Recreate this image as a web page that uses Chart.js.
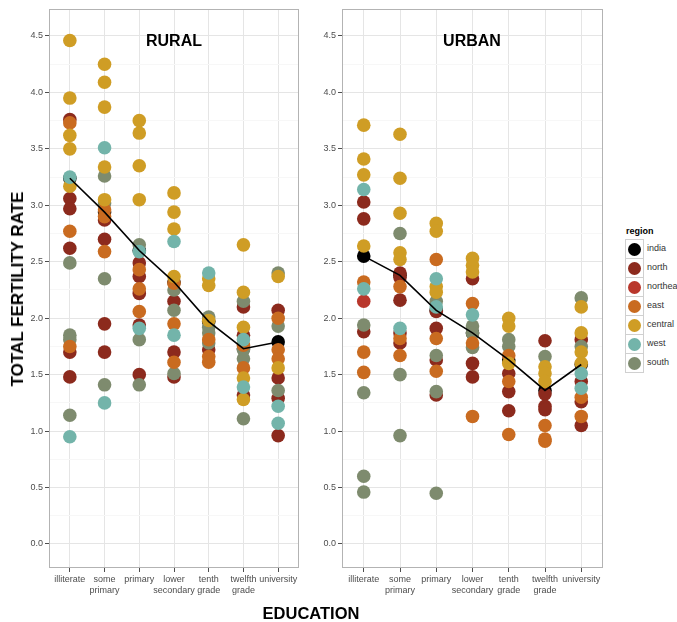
<!DOCTYPE html>
<html>
<head>
<meta charset="utf-8">
<script src="https://cdn.jsdelivr.net/npm/chart.js@4"></script>
<style>
  html, body { margin:0; padding:0; background:#fff; }
  body { width:677px; height:622px; overflow:hidden; position:relative; font-family:"Liberation Sans", Arial, sans-serif; }
  canvas { position:absolute; top:0; }
  .facet { position:absolute; font-weight:bold; font-size:16px; color:#000; transform:translate(-50%,-50%); white-space:nowrap; }
  #ytitle { position:absolute; left:18px; top:289px; font-weight:bold; font-size:17px; transform:translate(-50%,-50%) rotate(-90deg); white-space:nowrap; }
  #xtitle { position:absolute; left:311px; top:613px; font-weight:bold; font-size:16.5px; transform:translate(-50%,-50%); white-space:nowrap; }
  #legend { position:absolute; left:625px; top:224px; }
  #legend .ttl { font-weight:bold; font-size:9px; color:#000; height:15px; line-height:15px; margin-left:1px; }
  #legend .row { position:relative; height:19px; }
  #legend .key { position:absolute; left:0; top:0; width:17px; height:18px; border:1px solid #d0d0d0; background:#fff; }
  #legend .dot { position:absolute; left:2px; top:2.5px; width:13px; height:13px; border-radius:50%; }
  #legend .lab { position:absolute; left:22px; top:0; height:19px; line-height:19px; font-size:9px; color:#333; white-space:nowrap; }
</style>
</head>
<body>
<canvas id="rural" width="320" height="622" style="left:0px"></canvas>
<canvas id="urban" width="320" height="622" style="left:300px"></canvas>
<div class="facet" style="left:174px;top:41px">RURAL</div>
<div class="facet" style="left:472px;top:41px">URBAN</div>
<div id="ytitle">TOTAL FERTILITY RATE</div>
<div id="xtitle">EDUCATION</div>
<div id="legend"></div>
<script>
// ---- data ----
const categories = ['illiterate','some primary','primary','lower secondary','tenth grade','twelfth grade','university'];
const tickLabels = [['illiterate'],['some','primary'],['primary'],['lower','secondary'],['tenth','grade'],['twelfth','grade'],['university']];
const regions = ['india','north','northeast','east','central','west','south'];
const yTickValues = [0,0.25,0.5,0.75,1,1.25,1.5,1.75,2,2.25,2.5,2.75,3,3.25,3.5,3.75,4,4.25,4.5];
const yMajorLabels = ['0.0','0.5','1.0','1.5','2.0','2.5','3.0','3.5','4.0','4.5'];

const ruralIndia = [3.24, 2.94, 2.60, 2.32, 1.97, 1.73, 1.79];
const urbanIndia = [2.55, 2.38, 2.07, 1.87, 1.63, 1.36, 1.59];

// values per category (index = education level)
const ruralNorth     = [[3.76,3.06,2.97,2.62,1.70,1.48],[2.87,2.70,1.95,1.70],[2.49,2.37,2.22,1.94,1.50],[2.15,1.70,1.48],[1.72],[2.10,1.85,1.32],[2.07,1.47,1.29,0.96]];
const ruralNortheast = [[],[],[],[],[],[],[]];
const ruralEast      = [[3.73,2.77,1.75],[2.96,2.90,2.59],[2.43,2.26,2.06],[2.31,1.95,1.61],[1.81,1.66,1.61],[1.76,1.56],[2.00,1.72,1.64]];
const ruralCentral   = [[4.46,3.95,3.62,3.50,3.17],[4.25,4.09,3.87,3.34,3.05],[3.75,3.64,3.35,3.05],[3.11,2.94,2.79,2.37],[2.35,2.29,1.98],[2.65,2.23,1.92,1.47,1.28],[2.37,1.56]];
const ruralWest      = [[3.25,0.95],[3.51,1.25],[2.59,1.91],[2.68,1.85],[2.40],[1.81,1.39],[1.22,1.07]];
const ruralSouth     = [[2.49,1.85,1.81,1.14],[3.26,3.02,2.35,1.41],[2.65,1.81,1.41],[2.25,2.07,1.51],[2.01,1.92,1.87,1.78],[2.15,1.72,1.64,1.11],[2.40,1.93,1.36]];

const urbanNorth     = [[3.03,2.88,1.88],[2.40,2.36,2.16,1.87,1.78],[2.06,1.91,1.63,1.32],[2.35,1.60,1.48],[1.51,1.35,1.18],[1.80,1.33,1.22,1.19],[1.81,1.44,1.26,1.05]];
const urbanNortheast = [[2.15],[],[],[],[],[],[]];
const urbanEast      = [[2.32,1.70,1.52],[2.28,1.82,1.67],[2.52,1.82,1.53],[2.13,1.78,1.13],[1.67,1.44,0.97],[1.05,0.93,0.91],[1.30,1.13]];
const urbanCentral   = [[3.71,3.41,3.27,2.64],[3.63,3.24,2.93,2.58,2.52],[2.84,2.77,2.28,2.23],[2.53,2.47,2.41],[2.00,1.93,1.60],[1.57,1.51,1.44],[2.10,1.87,1.70,1.60]];
const urbanWest      = [[3.14,2.26],[1.91],[2.35,2.10],[2.03],[],[],[1.51,1.38]];
const urbanSouth     = [[1.94,1.34,0.60,0.46],[2.75,1.50,0.96],[2.15,1.67,1.35,0.45],[1.93,1.87,1.74],[1.81,1.75],[1.66],[2.18,1.75]];

// ---- styles ----
const regionColors = {india:'#000000', north:'#8c2a1d', northeast:'#b9372c', east:'#c96b20', central:'#cf9d25', west:'#73b4aa', south:'#7e8b6e'};
const POINT_R = 6.8;

function toPoints(byCat){
  const out = [];
  byCat.forEach((vals, i) => vals.forEach(v => out.push({x:i, y:v})));
  return out;
}
function scatterSet(name, byCat){
  return {type:'scatter', label:name, data:toPoints(byCat), showLine:false,
    pointRadius:POINT_R, pointHoverRadius:POINT_R, pointBackgroundColor:regionColors[name],
    pointBorderWidth:0, borderWidth:0, backgroundColor:regionColors[name]};
}
function buildDatasets(india, sets){
  const ds = [];
  ds.push({type:'line', label:'india line', data:india.map((v,i)=>({x:i,y:v})), borderColor:'#000', borderWidth:1.6, pointRadius:0, fill:false, tension:0});
  // drawn order: earlier datasets sit on top
  ds.push(scatterSet('west', sets.west));
  ds.push(scatterSet('central', sets.central));
  ds.push(scatterSet('east', sets.east));
  ds.push(scatterSet('south', sets.south));
  ds.push(scatterSet('northeast', sets.northeast));
  ds.push(scatterSet('north', sets.north));
  ds.push({type:'scatter', label:'india', data:india.map((v,i)=>({x:i,y:v})), showLine:false, pointRadius:POINT_R, pointBackgroundColor:'#000', pointBorderWidth:0, borderWidth:0});
  return ds;
}

const panelBorder = {
  id:'panelBorder',
  beforeDatasetsDraw(chart){
    const {ctx, chartArea:a} = chart;
    ctx.save();
    ctx.strokeStyle = '#b3b3b3';
    ctx.lineWidth = 1;
    ctx.strokeRect(a.left+0.5, a.top+0.5, a.right-a.left-1, a.bottom-a.top-1);
    ctx.restore();
  }
};

function isMajor(v){ return Math.abs(v*2 - Math.round(v*2)) < 1e-9; }

function makeChart(id, india, sets, yWidth, padRight){
  return new Chart(document.getElementById(id), {
    data:{datasets:buildDatasets(india, sets)},
    options:{
      responsive:false, animation:false, devicePixelRatio:1,
      layout:{padding:{top:9, right:padRight, bottom:0, left:0}},
      plugins:{legend:{display:false}, tooltip:{enabled:false}},
      events:[],
      scales:{
        x:{type:'linear', min:-0.6, max:6.6,
          afterBuildTicks(s){ s.ticks = categories.map((c,i)=>({value:i})); },
          afterFit(s){ s.height = 54; s.paddingLeft = 0; s.paddingRight = 0; },
          ticks:{autoSkip:false, maxRotation:0, minRotation:0, padding:2, color:'#4d4d4d',
            font:{family:'"Liberation Sans", Arial, sans-serif', size:9, lineHeight:1.2},
            callback:(v)=> tickLabels[Math.round(v)]},
          grid:{color:'#e5e5e5', lineWidth:1, tickLength:4, tickColor:'#4d4d4d', drawTicks:true},
          border:{display:false}
        },
        y:{type:'linear', min:-0.2126, max:4.739,
          afterBuildTicks(s){ s.ticks = yTickValues.map(v=>({value:v})); },
          afterFit(s){ s.width = yWidth; s.paddingTop = 0; s.paddingBottom = 0; },
          ticks:{autoSkip:false, padding:2, color:'#4d4d4d',
            font:{family:'"Liberation Sans", Arial, sans-serif', size:9},
            callback:(v)=> isMajor(v) ? yMajorLabels[Math.round(v*2)] : ''},
          grid:{lineWidth:1, tickLength:4, drawTicks:true,
            color:(c)=> (c.tick && isMajor(c.tick.value)) ? '#e5e5e5' : '#f7f7f7',
            tickColor:(c)=> (c.tick && isMajor(c.tick.value)) ? '#4d4d4d' : 'rgba(0,0,0,0)'},
          border:{display:false}
        }
      }
    },
    plugins:[panelBorder]
  });
}

// left canvas 320 wide: chart area 49..299 -> right padding 21
makeChart('rural', ruralIndia, {north:ruralNorth, northeast:ruralNortheast, east:ruralEast, central:ruralCentral, west:ruralWest, south:ruralSouth}, 49, 21);
// right canvas at 300, 320 wide: chart area 342..603 -> 42..303 -> right padding 17
makeChart('urban', urbanIndia, {north:urbanNorth, northeast:urbanNortheast, east:urbanEast, central:urbanCentral, west:urbanWest, south:urbanSouth}, 42, 17);

// legend
const lg = document.getElementById('legend');
const t = document.createElement('div'); t.className='ttl'; t.textContent='region'; lg.appendChild(t);
regions.forEach(r=>{
  const row = document.createElement('div'); row.className='row';
  const key = document.createElement('div'); key.className='key';
  const dot = document.createElement('div'); dot.className='dot'; dot.style.background = regionColors[r];
  key.appendChild(dot);
  const lab = document.createElement('div'); lab.className='lab'; lab.textContent = r;
  row.appendChild(key); row.appendChild(lab); lg.appendChild(row);
});
</script>
</body>
</html>
